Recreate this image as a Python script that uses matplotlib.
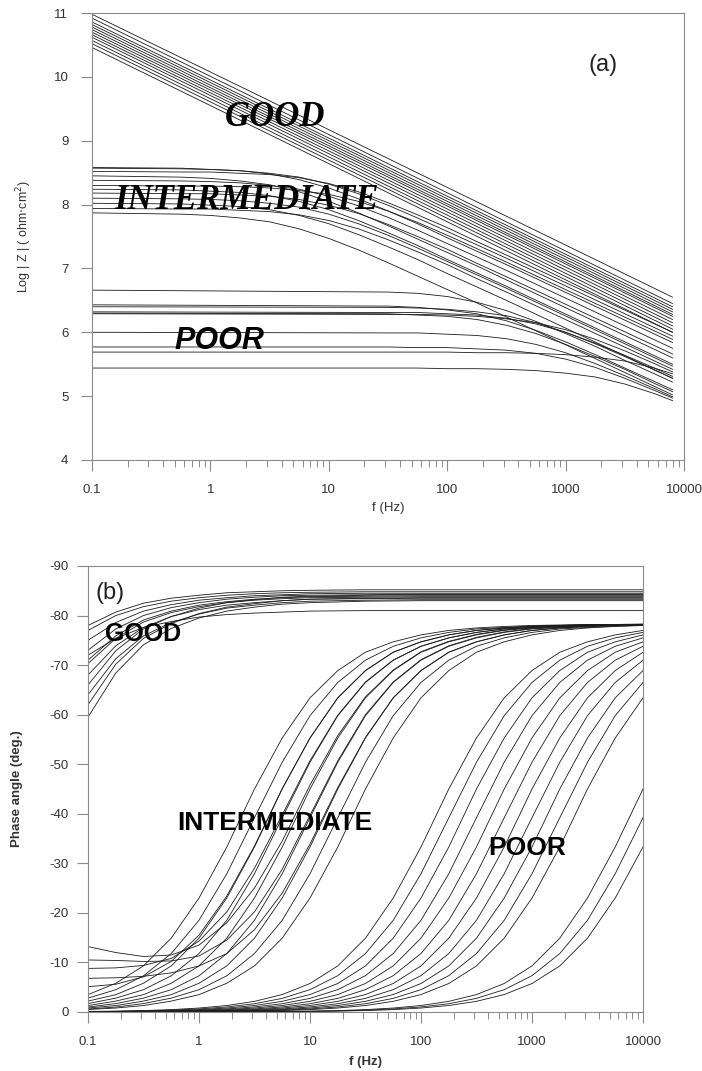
import numpy as np
import matplotlib
matplotlib.use('Agg')
import matplotlib.pyplot as plt

plt.rcParams['font.family'] = ['Liberation Sans', 'DejaVu Sans']
plt.rcParams['axes.unicode_minus'] = False

# ---------------- panel (a): Log|Z| vs frequency ----------------
freq_a_good = [0.1, 8000]
logz_good = [
    [10.98, 6.55], [10.92, 6.45], [10.86, 6.40], [10.82, 6.36],
    [10.78, 6.32], [10.74, 6.28], [10.70, 6.25], [10.66, 6.20],
    [10.62, 6.15], [10.57, 6.10], [10.52, 6.05], [10.46, 6.00],
]

freq_a_inter = [0.1, 0.562, 1, 1.78, 3.16, 5.62, 10, 17.8, 31.6, 56.2, 100, 178, 316, 8000]
logz_inter = [
    [8.58, 8.57, 8.55, 8.53, 8.48, 8.39, 8.26, 8.09, 7.90, 7.70, 7.48, 7.27, 7.06, 5.84],
    [8.57, 8.56, 8.55, 8.53, 8.49, 8.43, 8.32, 8.17, 7.99, 7.79, 7.58, 7.37, 7.16, 5.94],
    [8.52, 8.51, 8.51, 8.49, 8.47, 8.42, 8.33, 8.20, 8.03, 7.84, 7.64, 7.42, 7.21, 6.00],
    [8.45, 8.43, 8.41, 8.37, 8.31, 8.20, 8.05, 7.87, 7.67, 7.46, 7.25, 7.04, 6.82, 5.60],
    [8.38, 8.37, 8.36, 8.34, 8.30, 8.24, 8.13, 7.98, 7.80, 7.60, 7.39, 7.18, 6.97, 5.75],
    [8.30, 8.29, 8.29, 8.28, 8.26, 8.22, 8.16, 8.05, 7.90, 7.72, 7.52, 7.31, 7.10, 5.89],
    [8.24, 8.23, 8.21, 8.19, 8.14, 8.05, 7.92, 7.75, 7.56, 7.36, 7.14, 6.93, 6.72, 5.50],
    [8.18, 8.17, 8.17, 8.15, 8.13, 8.08, 7.99, 7.86, 7.69, 7.50, 7.30, 7.08, 6.87, 5.66],
    [8.10, 8.09, 8.08, 8.06, 8.02, 7.96, 7.85, 7.70, 7.52, 7.32, 7.11, 6.90, 6.69, 5.47],
    [8.02, 8.01, 7.99, 7.97, 7.92, 7.83, 7.70, 7.53, 7.34, 7.14, 6.92, 6.71, 6.50, 5.28],
    [7.94, 7.93, 7.93, 7.91, 7.89, 7.84, 7.75, 7.62, 7.45, 7.26, 7.06, 6.84, 6.63, 5.42],
    [7.87, 7.85, 7.83, 7.79, 7.73, 7.62, 7.47, 7.29, 7.09, 6.88, 6.67, 6.46, 6.24, 5.02],
]

freq_a_poor = [0.1, 31.6, 56.2, 100, 178, 316, 562, 1000, 1780, 3160, 5620, 8000]
logz_poor = [
    [6.66, 6.63, 6.61, 6.56, 6.47, 6.34, 6.17, 5.98, 5.78, 5.56, 5.35, 5.22],
    [6.43, 6.41, 6.39, 6.35, 6.29, 6.18, 6.03, 5.85, 5.65, 5.44, 5.23, 5.10],
    [6.40, 6.39, 6.38, 6.36, 6.32, 6.26, 6.15, 6.00, 5.82, 5.62, 5.41, 5.28],
    [6.32, 6.31, 6.31, 6.29, 6.27, 6.22, 6.13, 6.00, 5.83, 5.64, 5.44, 5.31],
    [6.30, 6.29, 6.27, 6.25, 6.20, 6.11, 5.98, 5.81, 5.62, 5.42, 5.20, 5.07],
    [6.29, 6.28, 6.28, 6.27, 6.25, 6.21, 6.15, 6.04, 5.89, 5.71, 5.51, 5.38],
    [6.00, 5.99, 5.99, 5.97, 5.95, 5.90, 5.81, 5.68, 5.51, 5.32, 5.12, 4.99],
    [5.77, 5.77, 5.76, 5.76, 5.74, 5.72, 5.67, 5.58, 5.45, 5.28, 5.09, 4.97],
    [5.69, 5.69, 5.69, 5.69, 5.68, 5.68, 5.67, 5.65, 5.61, 5.55, 5.44, 5.35],
    [5.44, 5.44, 5.44, 5.43, 5.43, 5.42, 5.40, 5.36, 5.30, 5.19, 5.04, 4.93],
]

# ---------------- panel (b): phase angle vs frequency ----------------
freq_b_good = [0.1, 0.178, 0.316, 0.562, 1, 1.78, 3.16, 5.62, 10, 31.6, 100, 1000, 10000]
phase_good = [
    [-78.0, -80.7, -82.5, -83.5, -84.1, -84.6, -84.8, -85.0, -85.1, -85.2, -85.2, -85.2, -85.2],
    [-77.0, -80.0, -81.8, -82.9, -83.6, -84.1, -84.4, -84.6, -84.7, -84.8, -84.8, -84.8, -84.8],
    [-75.0, -78.6, -80.9, -82.2, -83.1, -83.6, -84.0, -84.2, -84.4, -84.5, -84.5, -84.5, -84.5],
    [-73.0, -77.3, -80.0, -81.6, -82.6, -83.3, -83.7, -84.0, -84.1, -84.2, -84.3, -84.3, -84.3],
    [-71.0, -75.9, -79.1, -80.9, -82.1, -82.8, -83.3, -83.6, -83.8, -83.9, -84.0, -84.0, -84.0],
    [-70.3, -75.4, -78.7, -80.6, -81.8, -82.6, -83.1, -83.4, -83.6, -83.7, -83.8, -83.8, -83.8],
    [-68.0, -73.9, -77.6, -79.8, -81.2, -82.1, -82.6, -83.0, -83.3, -83.4, -83.5, -83.5, -83.5],
    [-66.0, -72.9, -77.3, -79.8, -81.5, -82.6, -83.2, -83.7, -83.9, -84.1, -84.2, -84.2, -84.2],
    [-64.0, -71.3, -75.9, -78.6, -80.3, -81.5, -82.1, -82.6, -82.9, -83.1, -83.2, -83.2, -83.2],
    [-62.0, -70.2, -75.4, -78.4, -80.4, -81.7, -82.4, -83.0, -83.3, -83.5, -83.6, -83.6, -83.6],
    [-59.5, -68.4, -74.1, -77.4, -79.5, -80.9, -81.7, -82.3, -82.6, -82.9, -83.0, -83.0, -83.0],
    [-72.0, -75.4, -77.6, -78.8, -79.7, -80.2, -80.5, -80.7, -80.9, -81.0, -81.0, -81.0, -81.0],
]

freq_b = [0.1, 0.178, 0.316, 0.562, 1, 1.78, 3.16, 5.62, 10, 17.8, 31.6,
          56.2, 100, 178, 316, 562, 1000, 1780, 3160, 5620, 10000]
phase_inter = [
    [-3.5, -5.8, -9.3, -14.9, -23.0, -33.3, -45.0, -55.3, -63.4, -68.9, -72.6, -74.7, -76.1, -77.0, -77.5, -77.8, -78.0, -78.1, -78.2, -78.2, -78.2],
    [-2.8, -4.5, -7.3, -11.8, -18.5, -27.9, -39.2, -50.4, -59.8, -66.5, -71.0, -73.8, -75.5, -76.6, -77.3, -77.6, -77.9, -78.0, -78.1, -78.2, -78.2],
    [-2.2, -3.5, -5.8, -9.3, -14.9, -23.0, -33.3, -45.0, -55.3, -63.4, -68.9, -72.6, -74.7, -76.1, -77.0, -77.5, -77.8, -78.0, -78.1, -78.2, -78.2],
    [-1.7, -2.8, -4.5, -7.3, -11.8, -18.5, -27.9, -39.2, -50.4, -59.8, -66.5, -71.0, -73.8, -75.5, -76.6, -77.3, -77.6, -77.9, -78.0, -78.1, -78.2],
    [-1.3, -2.2, -3.5, -5.8, -9.3, -14.9, -23.0, -33.3, -45.0, -55.3, -63.4, -68.9, -72.6, -74.7, -76.1, -77.0, -77.5, -77.8, -78.0, -78.1, -78.2],
    [-1.0, -1.7, -2.8, -4.5, -7.3, -11.8, -18.5, -27.9, -39.2, -50.4, -59.8, -66.5, -71.0, -73.8, -75.5, -76.6, -77.3, -77.6, -77.9, -78.0, -78.1],
    [-0.8, -1.3, -2.2, -3.5, -5.8, -9.3, -14.9, -23.0, -33.3, -45.0, -55.3, -63.4, -68.9, -72.6, -74.7, -76.1, -77.0, -77.5, -77.8, -78.0, -78.1],
    [-0.6, -1.0, -1.7, -2.8, -4.5, -7.3, -11.8, -18.5, -27.9, -39.2, -50.4, -59.8, -66.5, -71.0, -73.8, -75.5, -76.6, -77.3, -77.6, -77.9, -78.0],
    [-0.5, -0.8, -1.3, -2.2, -3.5, -5.8, -9.3, -14.9, -23.0, -33.3, -45.0, -55.3, -63.4, -68.9, -72.6, -74.7, -76.1, -77.0, -77.5, -77.8, -78.0],
    [-13.2, -12.0, -11.2, -11.5, -13.5, -18.0, -25.0, -34.5, -45.8, -55.8, -63.6, -69.0, -72.7, -74.8, -76.2, -77.1, -77.6, -77.9, -78.1, -78.2, -78.3],
    [-10.5, -10.4, -10.2, -10.3, -11.3, -14.5, -20.2, -28.8, -39.7, -50.7, -60.0, -66.6, -71.1, -73.9, -75.6, -76.7, -77.4, -77.7, -78.0, -78.1, -78.2],
    [-8.8, -8.9, -9.4, -10.8, -14.3, -20.2, -29.0, -39.8, -50.7, -59.9, -66.6, -71.0, -73.8, -75.5, -76.6, -77.3, -77.6, -77.9, -78.0, -78.1, -78.2],
    [-6.8, -6.9, -7.2, -7.9, -9.3, -11.8, -16.6, -24.0, -33.9, -45.3, -55.4, -63.4, -68.9, -72.6, -74.7, -76.1, -77.0, -77.5, -77.8, -78.0, -78.1],
    [-5.1, -5.6, -7.1, -10.2, -15.5, -23.4, -33.5, -45.1, -55.3, -63.4, -68.9, -72.6, -74.7, -76.1, -77.0, -77.5, -77.8, -78.0, -78.1, -78.2, -78.2],
]

phase_poor = [
    [-0.11, -0.18, -0.29, -0.48, -0.80, -1.31, -2.15, -3.52, -5.75, -9.3, -14.9, -23.0, -33.3, -45.0, -55.3, -63.4, -68.9, -72.6, -74.7, -76.1, -77.0],
    [-0.09, -0.14, -0.23, -0.37, -0.62, -1.02, -1.67, -2.75, -4.51, -7.33, -11.8, -18.5, -27.9, -39.2, -50.4, -59.8, -66.5, -71.0, -73.8, -75.5, -76.6],
    [-0.07, -0.11, -0.18, -0.29, -0.48, -0.80, -1.31, -2.15, -3.52, -5.75, -9.3, -14.9, -23.0, -33.3, -45.0, -55.3, -63.4, -68.9, -72.6, -74.7, -76.1],
    [-0.05, -0.09, -0.14, -0.23, -0.37, -0.62, -1.02, -1.67, -2.75, -4.51, -7.33, -11.8, -18.5, -27.9, -39.2, -50.4, -59.8, -66.5, -71.0, -73.8, -75.5],
    [-0.04, -0.07, -0.11, -0.18, -0.29, -0.48, -0.80, -1.31, -2.15, -3.52, -5.75, -9.3, -14.9, -23.0, -33.3, -45.0, -55.3, -63.4, -68.9, -72.6, -74.7],
    [-0.03, -0.05, -0.09, -0.14, -0.23, -0.37, -0.62, -1.02, -1.67, -2.75, -4.51, -7.33, -11.8, -18.5, -27.9, -39.2, -50.4, -59.8, -66.5, -71.0, -73.8],
    [-0.03, -0.04, -0.07, -0.11, -0.18, -0.29, -0.48, -0.80, -1.31, -2.15, -3.52, -5.75, -9.3, -14.9, -23.0, -33.3, -45.0, -55.3, -63.4, -68.9, -72.6],
    [-0.02, -0.03, -0.05, -0.09, -0.14, -0.23, -0.37, -0.62, -1.02, -1.67, -2.75, -4.51, -7.33, -11.8, -18.5, -27.9, -39.2, -50.4, -59.8, -66.5, -71.0],
    [-0.02, -0.03, -0.04, -0.07, -0.11, -0.18, -0.29, -0.48, -0.80, -1.31, -2.15, -3.52, -5.75, -9.3, -14.9, -23.0, -33.3, -45.0, -55.3, -63.4, -68.9],
    [-0.01, -0.02, -0.03, -0.05, -0.09, -0.14, -0.23, -0.37, -0.62, -1.02, -1.67, -2.75, -4.51, -7.33, -11.8, -18.5, -27.9, -39.2, -50.4, -59.8, -66.5],
    [-0.01, -0.02, -0.03, -0.04, -0.07, -0.11, -0.18, -0.29, -0.48, -0.80, -1.31, -2.15, -3.52, -5.75, -9.3, -14.9, -23.0, -33.3, -45.0, -55.3, -63.4],
    [0.0, -0.01, -0.01, -0.02, -0.03, -0.04, -0.07, -0.11, -0.18, -0.29, -0.48, -0.80, -1.31, -2.15, -3.52, -5.75, -9.3, -14.9, -23.0, -33.3, -45.0],
    [0.0, 0.0, -0.01, -0.01, -0.02, -0.03, -0.05, -0.09, -0.14, -0.23, -0.37, -0.62, -1.02, -1.67, -2.75, -4.51, -7.33, -11.8, -18.5, -27.9, -39.2],
    [0.0, 0.0, -0.01, -0.01, -0.02, -0.03, -0.04, -0.07, -0.11, -0.18, -0.29, -0.48, -0.80, -1.31, -2.15, -3.52, -5.75, -9.3, -14.9, -23.0, -33.3],
]

xtick_vals = [0.1, 1, 10, 100, 1000, 10000]
xtick_labels = ['0.1', '1', '10', '100', '1000', '10000']
ytick_a = [4, 5, 6, 7, 8, 9, 10, 11]
ytick_b = [-90, -80, -70, -60, -50, -40, -30, -20, -10, 0]

line_kw = dict(color='#1c1c1c', lw=0.6)
spine_col = '#8a8a8a'

fig = plt.figure(figsize=(7.02, 10.71), dpi=100)
ax1 = fig.add_axes([92 / 702, 1 - 460 / 1071, 592 / 702, 447 / 1071])
ax2 = fig.add_axes([88 / 702, 1 - 1012 / 1071, 555 / 702, 446 / 1071])

for row in logz_good:
    ax1.plot(freq_a_good, row, **line_kw)
for row in logz_inter:
    ax1.plot(freq_a_inter, row, **line_kw)
for row in logz_poor:
    ax1.plot(freq_a_poor, row, **line_kw)

for row in phase_good:
    ax2.plot(freq_b_good, row, **line_kw)
for row in phase_inter:
    ax2.plot(freq_b, row, **line_kw)
for row in phase_poor:
    ax2.plot(freq_b, row, **line_kw)

for ax in (ax1, ax2):
    ax.set_xscale('log')
    ax.set_xlim(0.1, 10000)
    ax.set_xticks(xtick_vals, labels=xtick_labels)
    for s in ax.spines.values():
        s.set_color(spine_col)
        s.set_linewidth(0.8)
    ax.tick_params(which='major', direction='out', length=8, width=0.8,
                   color=spine_col, labelsize=9.5, labelcolor='#333333')
    ax.tick_params(which='minor', direction='out', length=5, width=0.7,
                   color=spine_col)
    ax.tick_params(axis='x', which='major', pad=9)

ax1.set_ylim(4, 11)
ax1.set_yticks(ytick_a)
ax1.tick_params(axis='y', pad=9)
ax2.set_ylim(0, -90)
ax2.set_yticks(ytick_b, labels=[str(v) for v in ytick_b])
ax2.tick_params(axis='y', pad=6)

ax1.set_ylabel('Log | Z | ( ohm$\\cdot$cm$^2$)', fontsize=9, color='#333333')
ax1.yaxis.set_label_coords(-0.098, 0.5)
ax1.set_xlabel('f (Hz)', fontsize=9.5, color='#333333')
ax1.xaxis.set_label_coords(0.5, -0.094)

ax2.set_ylabel('Phase angle (deg.)', fontsize=9.5, fontweight='bold', color='#333333')
ax2.yaxis.set_label_coords(-0.117, 0.5)
ax2.set_xlabel('f (Hz)', fontsize=9.5, fontweight='bold', color='#333333')
ax2.xaxis.set_label_coords(0.5, -0.099)

# annotations panel (a)
ax1.text(3.5, 9.37, 'GOOD', family='Liberation Serif', fontweight='bold',
         fontstyle='italic', fontsize=25, ha='center', va='center', zorder=5)
ax1.text(2.0, 8.07, 'INTERMEDIATE', family='Liberation Serif', fontweight='bold',
         fontstyle='italic', fontsize=25, ha='center', va='center', zorder=5)
ax1.text(1.2, 5.86, 'POOR', fontweight='bold', fontstyle='italic', fontsize=22,
         ha='center', va='center', zorder=5)
ax1.text(2070, 10.19, '(a)', fontsize=17, ha='center', va='center', color='#222222')

# annotations panel (b)
ax2.text(0.158, -84.6, '(b)', fontsize=17, ha='center', va='center', color='#222222')
ax2.text(0.313, -76.3, 'GOOD', fontweight='bold', fontsize=18,
         ha='center', va='center', zorder=5)
ax2.text(4.84, -38.1, 'INTERMEDIATE', fontweight='bold', fontsize=19,
         ha='center', va='center', zorder=5)
ax2.text(902, -33.1, 'POOR', fontweight='bold', fontsize=19,
         ha='center', va='center', zorder=5)

fig.savefig('out.png', dpi=100)
